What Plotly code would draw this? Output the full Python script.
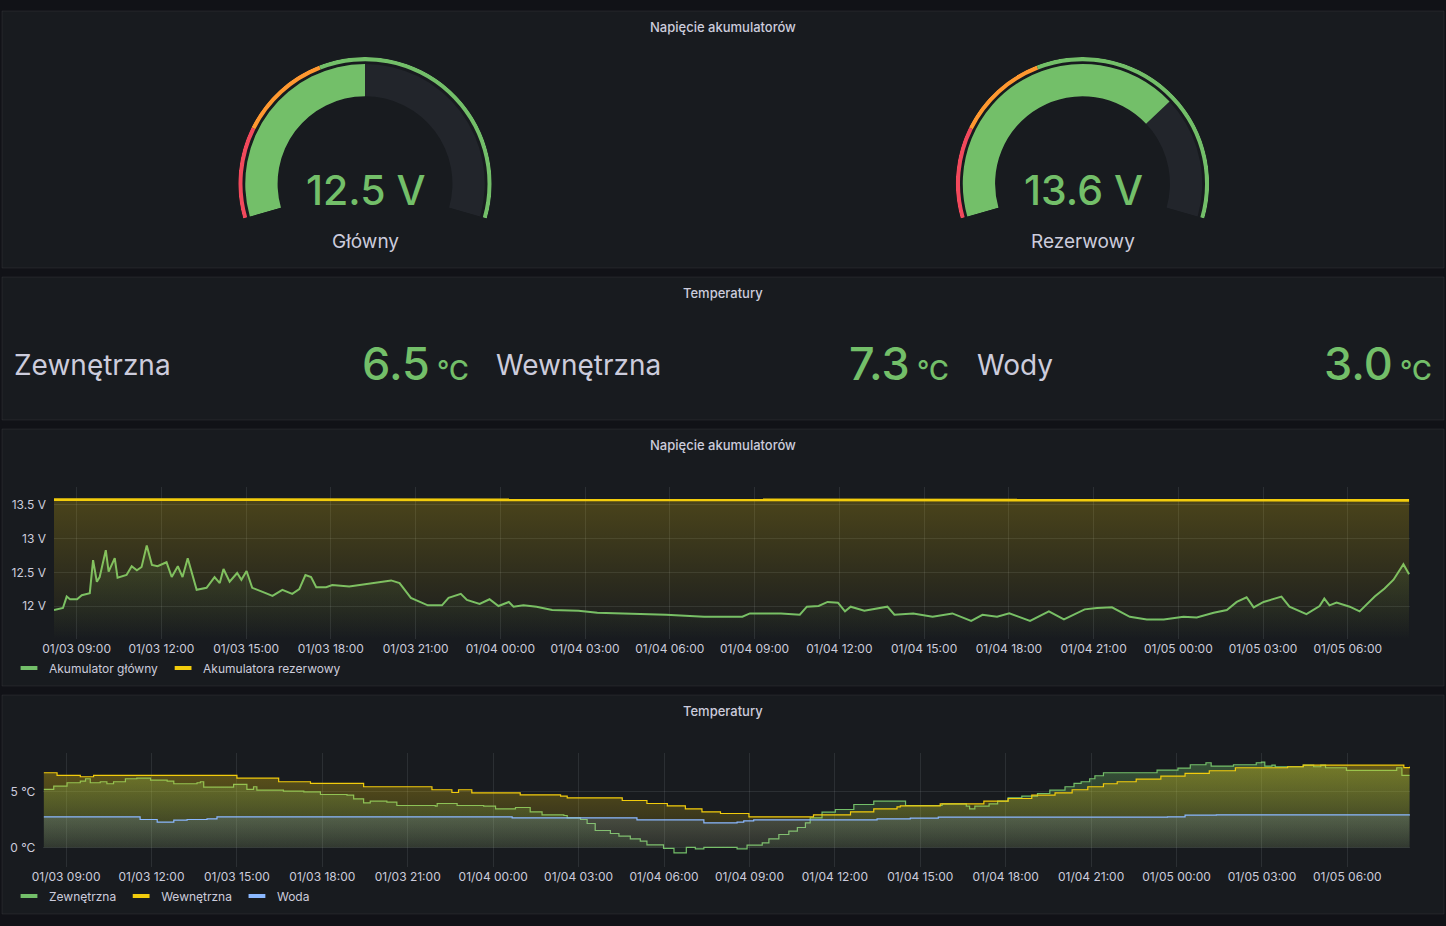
import plotly.graph_objects as go

W, H = 1446, 926
BG = "#111217"
PANEL = "#181b1f"
TXT = "#ccccdc"
GRID = "rgba(240,250,255,0.09)"
GREEN = "#73BF69"
YELLOW = "#F2CC0C"
BLUE = "#8AB8FF"
RED = "#F2495C"
ORANGE = "#FF9830"
FONT = "Inter"

# ---------------- data ----------------
gauge_names = ["Główny", "Rezerwowy"]
gauge_values = [12.5, 13.6]
gauge_min, gauge_max = 10, 15
gauge_steps = [11, 12]          # red below 11, orange 11-12, green above

stat_names = ["Zewnętrzna", "Wewnętrzna", "Wody"]
stat_values = [6.5, 7.3, 3.0]

volt_main_t = [
    "2024-01-03 08:12", "2024-01-03 08:31", "2024-01-03 08:39", "2024-01-03 08:46", "2024-01-03 09:01",
    "2024-01-03 09:11", "2024-01-03 09:28", "2024-01-03 09:35", "2024-01-03 09:43", "2024-01-03 09:49",
    "2024-01-03 10:02", "2024-01-03 10:08", "2024-01-03 10:21", "2024-01-03 10:27", "2024-01-03 10:46",
    "2024-01-03 10:57", "2024-01-03 11:08", "2024-01-03 11:18", "2024-01-03 11:29", "2024-01-03 11:40",
    "2024-01-03 11:52", "2024-01-03 12:11", "2024-01-03 12:22", "2024-01-03 12:35", "2024-01-03 12:45",
    "2024-01-03 12:56", "2024-01-03 13:15", "2024-01-03 13:36", "2024-01-03 13:53", "2024-01-03 14:04",
    "2024-01-03 14:12", "2024-01-03 14:25", "2024-01-03 14:41", "2024-01-03 14:50", "2024-01-03 15:01",
    "2024-01-03 15:13", "2024-01-03 15:35", "2024-01-03 15:56", "2024-01-03 16:17", "2024-01-03 16:38",
    "2024-01-03 16:53", "2024-01-03 17:06", "2024-01-03 17:18", "2024-01-03 17:29", "2024-01-03 17:50",
    "2024-01-03 18:03", "2024-01-03 18:39", "2024-01-03 19:15", "2024-01-03 19:49", "2024-01-03 20:08",
    "2024-01-03 20:26", "2024-01-03 20:50", "2024-01-03 21:26", "2024-01-03 21:56", "2024-01-03 22:10",
    "2024-01-03 22:36", "2024-01-03 22:49", "2024-01-03 23:16", "2024-01-03 23:37", "2024-01-03 23:56",
    "2024-01-04 00:18", "2024-01-04 00:28", "2024-01-04 00:49", "2024-01-04 01:17", "2024-01-04 01:50",
    "2024-01-04 02:46", "2024-01-04 03:26", "2024-01-04 04:32", "2024-01-04 05:52", "2024-01-04 07:13",
    "2024-01-04 08:34", "2024-01-04 08:50", "2024-01-04 09:56", "2024-01-04 10:36", "2024-01-04 10:51",
    "2024-01-04 11:16", "2024-01-04 11:35", "2024-01-04 11:57", "2024-01-04 12:12", "2024-01-04 12:24",
    "2024-01-04 12:53", "2024-01-04 13:42", "2024-01-04 13:57", "2024-01-04 14:37", "2024-01-04 15:18",
    "2024-01-04 16:00", "2024-01-04 16:40", "2024-01-04 17:04", "2024-01-04 17:35", "2024-01-04 18:01",
    "2024-01-04 18:45", "2024-01-04 19:25", "2024-01-04 19:57", "2024-01-04 20:41", "2024-01-04 21:07",
    "2024-01-04 21:39", "2024-01-04 22:17", "2024-01-04 22:53", "2024-01-04 23:29", "2024-01-05 00:11",
    "2024-01-05 00:39", "2024-01-05 01:15", "2024-01-05 01:43", "2024-01-05 02:04", "2024-01-05 02:25",
    "2024-01-05 02:40", "2024-01-05 03:01", "2024-01-05 03:39", "2024-01-05 03:56", "2024-01-05 04:32",
    "2024-01-05 05:00", "2024-01-05 05:10", "2024-01-05 05:21", "2024-01-05 05:36", "2024-01-05 06:04",
    "2024-01-05 06:25", "2024-01-05 06:57", "2024-01-05 07:18", "2024-01-05 07:37", "2024-01-05 07:58",
    "2024-01-05 08:10",
]
volt_main_v = [
    11.94, 11.97, 12.14, 12.10, 12.10, 12.16, 12.19, 12.68, 12.36, 12.43,
    12.83, 12.51, 12.71, 12.42, 12.46, 12.59, 12.53, 12.58, 12.90, 12.61,
    12.59, 12.65, 12.43, 12.59, 12.43, 12.71, 12.24, 12.27, 12.43, 12.34,
    12.55, 12.36, 12.49, 12.39, 12.52, 12.27, 12.21, 12.15, 12.24, 12.18,
    12.25, 12.46, 12.43, 12.28, 12.28, 12.31, 12.29, 12.33, 12.36, 12.38,
    12.34, 12.12, 12.01, 12.01, 12.12, 12.18, 12.09, 12.03, 12.10, 12.00,
    12.06, 11.99, 12.01, 11.99, 11.94, 11.93, 11.90, 11.89, 11.87, 11.84,
    11.84, 11.89, 11.89, 11.87, 11.99, 12.00, 12.06, 12.05, 11.92, 11.99,
    11.93, 11.99, 11.87, 11.89, 11.84, 11.89, 11.78, 11.87, 11.84, 11.89,
    11.78, 11.92, 11.80, 11.95, 11.97, 11.98, 11.84, 11.80, 11.80, 11.84,
    11.83, 11.90, 11.94, 12.06, 12.13, 11.98, 12.06, 12.14, 11.99, 11.88,
    12.00, 12.11, 12.01, 12.05, 11.99, 11.92, 12.14, 12.26, 12.39, 12.62,
    12.47,
]

volt_backup_t = [
    "2024-01-03 08:12", "2024-01-03 11:00", "2024-01-03 14:00", "2024-01-03 17:00", "2024-01-03 20:00",
    "2024-01-03 23:00", "2024-01-04 02:00", "2024-01-04 05:00", "2024-01-04 08:00", "2024-01-04 11:00",
    "2024-01-04 14:00", "2024-01-04 17:00", "2024-01-04 20:00", "2024-01-04 23:00", "2024-01-05 02:00",
    "2024-01-05 05:00", "2024-01-05 08:10",
]
volt_backup_v = [13.58, 13.58, 13.58, 13.57, 13.58, 13.58, 13.57, 13.58, 13.58, 13.58,
                 13.58, 13.57, 13.58, 13.58, 13.58, 13.58, 13.57]

volt_ticks = [12, 12.5, 13, 13.5]
volt_ticktext = ["12 V", "12.5 V", "13 V", "13.5 V"]

temp_out_t = [
    "2024-01-03 08:13", "2024-01-03 08:34", "2024-01-03 09:02", "2024-01-03 09:30", "2024-01-03 09:41",
    "2024-01-03 09:51", "2024-01-03 10:12", "2024-01-03 10:26", "2024-01-03 10:40", "2024-01-03 11:05",
    "2024-01-03 11:29", "2024-01-03 11:58", "2024-01-03 12:33", "2024-01-03 12:47", "2024-01-03 13:36",
    "2024-01-03 13:43", "2024-01-03 13:50", "2024-01-03 14:53", "2024-01-03 15:21", "2024-01-03 15:35",
    "2024-01-03 15:42", "2024-01-03 16:38", "2024-01-03 17:21", "2024-01-03 17:56", "2024-01-03 18:52",
    "2024-01-03 19:06", "2024-01-03 19:27", "2024-01-03 19:41", "2024-01-03 20:16", "2024-01-03 20:37",
    "2024-01-03 21:58", "2024-01-03 22:02", "2024-01-03 22:44", "2024-01-03 23:40", "2024-01-04 00:05",
    "2024-01-04 00:47", "2024-01-04 01:18", "2024-01-04 01:43", "2024-01-04 02:29", "2024-01-04 02:36",
    "2024-01-04 03:04", "2024-01-04 03:18", "2024-01-04 03:35", "2024-01-04 04:07", "2024-01-04 04:25",
    "2024-01-04 04:49", "2024-01-04 05:10", "2024-01-04 05:24", "2024-01-04 05:59", "2024-01-04 06:21",
    "2024-01-04 06:40", "2024-01-04 06:47", "2024-01-04 07:06", "2024-01-04 07:24", "2024-01-04 08:06",
    "2024-01-04 08:34", "2024-01-04 08:55", "2024-01-04 09:27", "2024-01-04 09:41", "2024-01-04 10:02",
    "2024-01-04 10:23", "2024-01-04 10:41", "2024-01-04 10:58", "2024-01-04 11:08", "2024-01-04 11:33",
    "2024-01-04 12:01", "2024-01-04 12:40", "2024-01-04 13:22", "2024-01-04 14:22", "2024-01-04 14:29",
    "2024-01-04 15:31", "2024-01-04 15:46", "2024-01-04 16:37", "2024-01-04 16:44", "2024-01-04 16:55",
    "2024-01-04 17:25", "2024-01-04 17:43", "2024-01-04 18:05", "2024-01-04 18:34", "2024-01-04 19:07",
    "2024-01-04 19:33", "2024-01-04 20:05", "2024-01-04 20:24", "2024-01-04 20:39", "2024-01-04 20:57",
    "2024-01-04 21:08", "2024-01-04 21:26", "2024-01-04 23:08", "2024-01-04 23:19", "2024-01-05 00:03",
    "2024-01-05 00:29", "2024-01-05 01:02", "2024-01-05 01:13", "2024-01-05 02:00", "2024-01-05 02:48",
    "2024-01-05 02:59", "2024-01-05 03:06", "2024-01-05 03:21", "2024-01-05 03:28", "2024-01-05 04:27",
    "2024-01-05 04:49", "2024-01-05 05:04", "2024-01-05 05:14", "2024-01-05 05:58", "2024-01-05 07:37",
    "2024-01-05 07:44", "2024-01-05 07:55", "2024-01-05 08:11",
]
temp_out_v = [
    5.23, 5.52, 5.83, 5.98, 6.19, 5.83, 5.92, 5.74, 5.92, 6.19,
    6.24, 6.06, 5.98, 5.74, 5.83, 5.92, 5.43, 5.68, 5.23, 5.47,
    5.17, 5.08, 5.00, 4.77, 4.71, 4.38, 4.02, 4.17, 4.08, 3.78,
    3.72, 3.96, 3.78, 3.72, 3.48, 3.60, 3.21, 2.94, 2.88, 2.67,
    2.52, 2.16, 1.53, 1.26, 1.02, 0.78, 0.57, 0.24, -0.09, -0.48,
    -0.48, 0.00, -0.12, 0.00, 0.00, -0.12, 0.21, 0.42, 0.78, 1.17,
    1.47, 1.80, 2.22, 2.67, 3.18, 3.42, 3.87, 4.17, 4.17, 3.78,
    3.78, 3.93, 3.72, 3.48, 3.72, 3.93, 4.17, 4.47, 4.62, 4.86,
    5.17, 5.47, 5.77, 5.92, 6.19, 6.46, 6.73, 6.73, 6.97, 7.15,
    7.45, 7.63, 7.33, 7.45, 7.63, 7.69, 7.33, 7.41, 7.27, 7.41,
    7.27, 7.41, 7.18, 6.94, 6.94, 7.18, 6.49, 6.49,
]

temp_in_t = [
    "2024-01-03 08:13", "2024-01-03 08:38", "2024-01-03 08:41", "2024-01-03 09:20", "2024-01-03 09:30",
    "2024-01-03 09:41", "2024-01-03 09:58", "2024-01-03 14:46", "2024-01-03 15:00", "2024-01-03 16:25",
    "2024-01-03 16:28", "2024-01-03 17:35", "2024-01-03 19:27", "2024-01-03 21:48", "2024-01-03 21:51",
    "2024-01-03 22:33", "2024-01-03 22:47", "2024-01-03 23:12", "2024-01-03 23:15", "2024-01-04 00:57",
    "2024-01-04 02:22", "2024-01-04 02:36", "2024-01-04 04:32", "2024-01-04 05:24", "2024-01-04 06:07",
    "2024-01-04 06:45", "2024-01-04 07:20", "2024-01-04 07:59", "2024-01-04 08:59", "2024-01-04 11:08",
    "2024-01-04 11:15", "2024-01-04 12:05", "2024-01-04 12:33", "2024-01-04 13:22", "2024-01-04 14:11",
    "2024-01-04 14:18", "2024-01-04 15:42", "2024-01-04 17:14", "2024-01-04 18:05", "2024-01-04 18:55",
    "2024-01-04 19:44", "2024-01-04 20:20", "2024-01-04 20:53", "2024-01-04 21:26", "2024-01-04 21:55",
    "2024-01-04 22:35", "2024-01-04 23:27", "2024-01-05 00:18", "2024-01-05 01:09", "2024-01-05 02:04",
    "2024-01-05 03:54", "2024-01-05 04:27", "2024-01-05 07:55", "2024-01-05 07:59", "2024-01-05 08:11",
]
temp_in_v = [
    6.73, 6.73, 6.49, 6.49, 6.37, 6.37, 6.49, 6.49, 6.24, 6.24,
    5.92, 5.77, 5.47, 5.47, 5.20, 4.95, 5.20, 5.20, 4.92, 4.74,
    4.62, 4.47, 4.23, 3.96, 3.75, 3.48, 3.21, 3.06, 2.76, 2.76,
    2.94, 2.94, 3.21, 3.48, 3.66, 3.75, 3.93, 4.17, 4.41, 4.71,
    4.92, 5.20, 5.47, 5.74, 5.92, 6.15, 6.42, 6.67, 6.91, 7.18,
    7.27, 7.41, 7.41, 7.20, 7.27,
]

temp_water_t = [
    "2024-01-03 08:13", "2024-01-03 11:29", "2024-01-03 11:36", "2024-01-03 12:12", "2024-01-03 12:47",
    "2024-01-03 13:15", "2024-01-03 13:57", "2024-01-03 14:18", "2024-01-04 00:36", "2024-01-04 00:40",
    "2024-01-04 04:56", "2024-01-04 05:03", "2024-01-04 07:20", "2024-01-04 07:24", "2024-01-04 08:34",
    "2024-01-04 08:48", "2024-01-04 09:09", "2024-01-04 13:22", "2024-01-04 13:29", "2024-01-04 14:39",
    "2024-01-04 15:38", "2024-01-04 23:41", "2024-01-05 00:18", "2024-01-05 01:24", "2024-01-05 08:11",
]
temp_water_v = [
    2.76, 2.76, 2.52, 2.28, 2.46, 2.52, 2.58, 2.76, 2.76, 2.67,
    2.67, 2.49, 2.49, 2.22, 2.28, 2.40, 2.49, 2.49, 2.58, 2.64,
    2.73, 2.76, 2.91, 2.94, 2.97,
]

temp_ticks = [0, 5]
temp_ticktext = ["0 °C", "5 °C"]

time_range = ["2024-01-03 08:12", "2024-01-05 08:12"]
volt_range = [11.51, 13.767]
temp_range = [-1.76, 8.51]


# ---------------- helpers ----------------
def px(x):
    return x / W


def py(y):
    return 1 - y / H


def rgba(hexc, a):
    h = hexc.lstrip("#")
    return "rgba(%d,%d,%d,%.3f)" % (int(h[0:2], 16), int(h[2:4], 16), int(h[4:6], 16), a)


def grad(color, a_top, lo, hi):
    return dict(type="vertical", start=lo, stop=hi,
                colorscale=[[0, rgba(color, 0.0)], [1, rgba(color, a_top)]])


def note(text, x, y, size, color=TXT, weight=400, xanchor="center"):
    fig.add_annotation(text=text, x=px(x), y=py(y), xref="paper", yref="paper",
                       xanchor=xanchor, yanchor="middle", showarrow=False,
                       font=dict(family=FONT, size=size, color=color, weight=weight))


fig = go.Figure()

# ---------------- panels ----------------
panels = [(11, 268), (277, 420), (429, 686), (695, 914)]
for top, bot in panels:
    fig.add_shape(type="rect", xref="paper", yref="paper", layer="below",
                  x0=px(2), x1=px(1444), y0=py(bot), y1=py(top),
                  fillcolor=PANEL, line=dict(color="rgba(204,204,220,0.08)", width=1))

titles = [("Napięcie akumulatorów", 27), ("Temperatury", 293),
          ("Napięcie akumulatorów", 445), ("Temperatury", 711)]
for t, y in titles:
    note(t, W / 2, y, 13, weight=500)

# ---------------- gauges ----------------
SWEEP_START, SWEEP = 196, 212


def ang(v):
    return SWEEP_START - (v - gauge_min) / (gauge_max - gauge_min) * SWEEP


def arc(a, b):
    # theta centre / width for value span a..b
    return (ang(a) + ang(b)) / 2, ang(a) - ang(b)


gauge_cx = [365, 1082.5]
gauge_cy, gauge_r = 183.7, 126.7
sin16 = 0.2756
for i, (name, val) in enumerate(zip(gauge_names, gauge_values)):
    pname = "polar" if i == 0 else "polar2"
    cx = gauge_cx[i]
    dom = dict(x=[px(cx - gauge_r), px(cx + gauge_r)],
               y=[py(gauge_cy + gauge_r * sin16), py(gauge_cy - gauge_r)])
    fig.update_layout(**{pname: dict(
        domain=dom, sector=[SWEEP_START - SWEEP, SWEEP_START], hole=0,
        bgcolor="rgba(0,0,0,0)",
        radialaxis=dict(visible=False, range=[0, 1]),
        angularaxis=dict(visible=False, rotation=0, direction="counterclockwise"),
    )})
    # threshold ring
    bounds = [gauge_min] + gauge_steps + [gauge_max]
    cols = [RED, ORANGE, GREEN]
    th, wd = zip(*[arc(bounds[k], bounds[k + 1]) for k in range(3)])
    fig.add_trace(go.Barpolar(r=[0.033] * 3, base=[0.967] * 3, theta=list(th), width=list(wd),
                              marker=dict(color=cols, line=dict(width=0)),
                              subplot=pname, showlegend=False, hoverinfo="skip"))
    # track and value
    t_th, t_wd = arc(gauge_min, gauge_max)
    v_th, v_wd = arc(gauge_min, val)
    fig.add_trace(go.Barpolar(r=[0.255, 0.255], base=[0.69, 0.69], theta=[t_th, v_th], width=[t_wd, v_wd],
                              marker=dict(color=["#22252b", GREEN], line=dict(width=0)),
                              subplot=pname, showlegend=False, hoverinfo="skip"))
    note("%.1f V" % val, cx + 1, 190, 41, color=GREEN, weight=500)
    note(name, cx, 241, 19)

# ---------------- stats ----------------
label_x = [12, 494, 975]
value_x = [471, 951, 1434]
for name, val, lx, vx in zip(stat_names, stat_values, label_x, value_x):
    note(name, lx, 365, 28, xanchor="left")
    note("%.1f<span style='font-size:27px'> °C</span>" % val, vx, 363, 45,
         color=GREEN, weight=500, xanchor="right")

# ---------------- voltage time series ----------------
fig.add_trace(go.Scatter(x=volt_main_t, y=volt_main_v, mode="lines", xaxis="x", yaxis="y",
                         line=dict(color=GREEN, width=2), fill="tozeroy",
                         fillgradient=grad(GREEN, 0.24, volt_range[0], volt_range[1]),
                         showlegend=False, hoverinfo="skip"))
fig.add_trace(go.Scatter(x=volt_backup_t, y=volt_backup_v, mode="lines", xaxis="x", yaxis="y",
                         line=dict(color=YELLOW, width=2.8), fill="tozeroy",
                         fillgradient=grad(YELLOW, 0.25, volt_range[0], volt_range[1]),
                         showlegend=False, hoverinfo="skip"))

# ---------------- temperature time series ----------------
for t, v, c in [(temp_out_t, temp_out_v, GREEN), (temp_in_t, temp_in_v, YELLOW),
                (temp_water_t, temp_water_v, BLUE)]:
    fig.add_trace(go.Scatter(x=t, y=v, mode="lines", xaxis="x2", yaxis="y2",
                             line=dict(color=c, width=1.2, shape="hv"), fill="tozeroy",
                             fillgradient=grad(c, 0.37, temp_range[0], temp_range[1]),
                             showlegend=False, hoverinfo="skip"))

# legend entries
for name, c, lg in [("Akumulator główny", GREEN, "legend"), ("Akumulatora rezerwowy", YELLOW, "legend"),
                    ("Zewnętrzna", GREEN, "legend2"), ("Wewnętrzna", YELLOW, "legend2"),
                    ("Woda", BLUE, "legend2")]:
    fig.add_trace(go.Scatter(x=[None], y=[None], mode="markers", name=name, legend=lg,
                             xaxis="x" if lg == "legend" else "x2", yaxis="y" if lg == "legend" else "y2",
                             marker=dict(symbol="line-ew-open", size=12, line=dict(width=4, color=c), color=c)))

xcommon = dict(type="date", range=time_range, tickformat="%m/%d %H:%M", dtick=3 * 3600 * 1000,
               tick0="2024-01-03 00:00", showgrid=True, gridcolor=GRID, gridwidth=1, zeroline=False,
               showline=False, ticks="", automargin=False, ticklabelstandoff=1,
               tickfont=dict(family=FONT, size=12, color=TXT), fixedrange=True)
ycommon = dict(showgrid=True, gridcolor=GRID, gridwidth=1, zeroline=False, showline=False, ticks="",
               automargin=False, ticklabelstandoff=7,
               tickfont=dict(family=FONT, size=12, color=TXT), fixedrange=True)

fig.update_layout(
    width=W, height=H, margin=dict(l=0, r=0, t=0, b=0, autoexpand=False),
    paper_bgcolor=BG, plot_bgcolor="rgba(0,0,0,0)",
    font=dict(family=FONT, color=TXT),
    xaxis=dict(domain=[px(54), px(1410)], anchor="y", **xcommon),
    yaxis=dict(domain=[py(639), py(487)], anchor="x", range=volt_range,
               tickvals=volt_ticks, ticktext=volt_ticktext, **ycommon),
    xaxis2=dict(domain=[px(43.3), px(1410)], anchor="y2", **xcommon),
    yaxis2=dict(domain=[py(867), py(753)], anchor="x2", range=temp_range,
                tickvals=temp_ticks, ticktext=temp_ticktext, **ycommon),
    legend=dict(orientation="h", x=px(9), y=py(668), xanchor="left", yanchor="middle",
                bgcolor="rgba(0,0,0,0)", font=dict(family=FONT, size=12, color=TXT)),
    legend2=dict(orientation="h", x=px(9), y=py(896), xanchor="left", yanchor="middle",
                 bgcolor="rgba(0,0,0,0)", font=dict(family=FONT, size=12, color=TXT)),
    showlegend=True,
)

fig.write_html("out.html", config={"displayModeBar": False},
               post_script="document.body.style.margin='0';document.body.style.background='%s';" % BG)
